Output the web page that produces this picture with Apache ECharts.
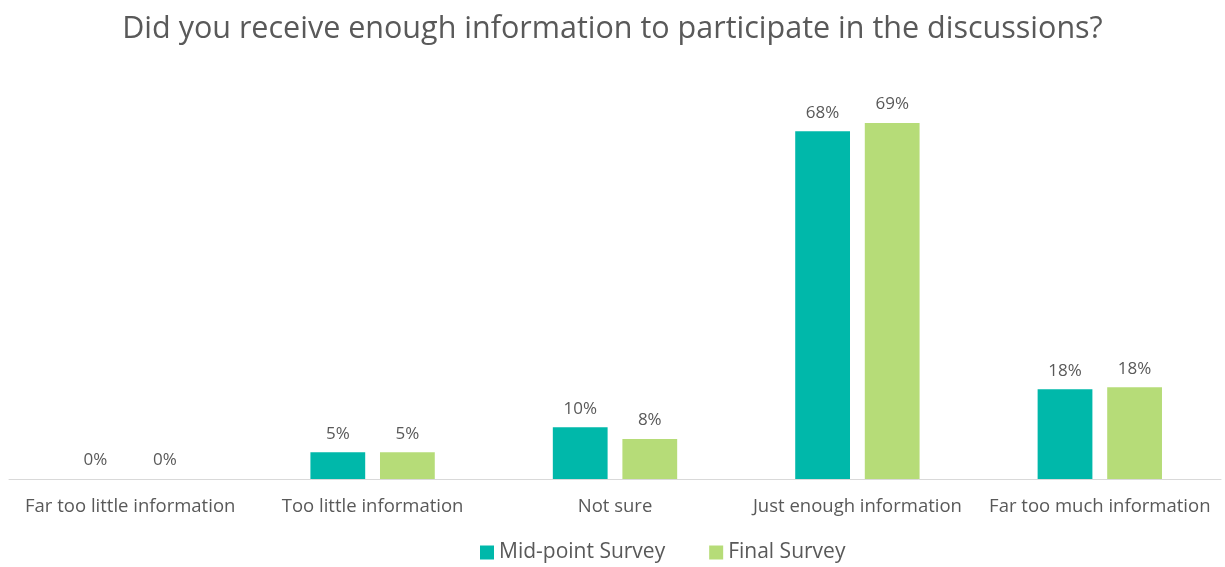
<!DOCTYPE html>
<html><head><meta charset="utf-8">
<script src="https://cdn.jsdelivr.net/npm/echarts@6/dist/echarts.min.js"></script>
<style>html,body{margin:0;padding:0;background:#fff}#c{width:1225px;height:567px}</style>
</head><body><div id="c"></div>
<script>
const categories = ['Far too little information','Too little information','Not sure','Just enough information','Far too much information'];
const midPoint = [0, 5.2, 10.1, 67.8, 17.5];
const finalSurvey = [0, 5.2, 7.8, 69.4, 17.9];
const seriesNames = ['Mid-point Survey','Final Survey'];
const FONT = 'Open Sans';
const chart = echarts.init(document.getElementById('c'));
const lbl = {show:true, position:'top', distance:10, color:'#595959', fontSize:17, fontFamily:FONT, formatter:p=>Math.round(p.value)+'%'};
chart.setOption({
  animation:false,
  title:{text:'Did you receive enough information to participate in the discussions?', left:'center', top:9,
    textStyle:{color:'#595959', fontSize:30.5, fontWeight:'normal', fontFamily:FONT}},
  legend:{left:475, top:537, padding:[5,5,5,5], itemWidth:14, itemHeight:14, itemGap:44, itemTextGap:8, icon:'rect',
    textStyle:{color:'#595959', fontSize:21, fontFamily:FONT}, data:seriesNames},
  grid:{left:9, right:4, top:120, bottom:88},
  xAxis:{type:'category', data:categories, axisTick:{show:false},
    axisLine:{lineStyle:{color:'#d9d9d9'}},
    axisLabel:{color:'#595959', fontSize:18.5, fontFamily:FONT, margin:18, interval:0}},
  yAxis:{type:'value', min:0, max:70, show:false, splitLine:{show:false}},
  series:[
    {name:seriesNames[0], type:'bar', data:midPoint, barWidth:'22.6%', barGap:'27%', itemStyle:{color:'#00B8AA'}, label:lbl},
    {name:seriesNames[1], type:'bar', data:finalSurvey, barWidth:'22.6%', barGap:'27%', itemStyle:{color:'#B6DC78'}, label:lbl}
  ]
});
</script></body></html>
